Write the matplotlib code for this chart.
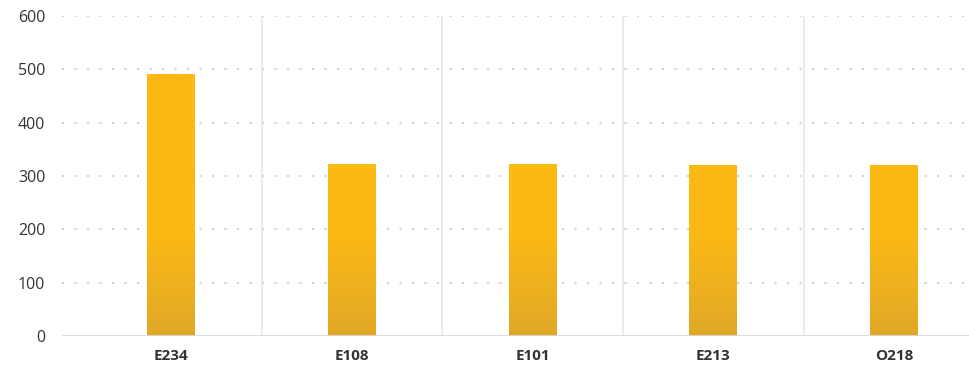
import numpy as np
import matplotlib.pyplot as plt
from matplotlib.colors import to_rgb

plt.rcParams['font.family'] = ['Open Sans', 'DejaVu Sans']

# ---------- data ----------
codes = ['E234', 'E108', 'E101', 'E213', 'O218']
values = [491, 322, 322, 320, 320]

# ---------- style ----------
top_color = np.array(to_rgb('#FCB914'))
bottom_color = np.array(to_rgb('#E0A828'))
fade_height = 190  # gradient runs from 0 up to this value
bar_width = 0.265

fig = plt.figure(figsize=(9.70, 3.73), dpi=100)
ax = fig.add_axes([0.064, 0.099, 0.936, 0.858])

x = np.arange(len(codes))
bars = ax.bar(x, values, width=bar_width, color='none', edgecolor='none', zorder=3)

# fill each bar with a vertical gradient, clipped to the bar
for b in bars:
    x0 = b.get_x()
    h = b.get_height()
    yy = np.linspace(h, 0, 256)
    t = np.clip(yy / fade_height, 0, 1)[:, None]
    rgb = bottom_color + t * (top_color - bottom_color)
    img = np.repeat(rgb[:, None, :], 2, axis=1)
    im = ax.imshow(img, extent=(x0, x0 + b.get_width(), 0, h),
                   aspect='auto', zorder=3, interpolation='bilinear')
    im.set_clip_path(b)

ax.set_xlim(-0.605, 4.42)
ax.set_ylim(0, 600)

# dotted horizontal grid
for yv in range(100, 601, 100):
    ax.axhline(yv, color='#D2D2D2', linewidth=1.5,
               linestyle=(0, (1.0, 5.0)), zorder=1)

# solid separators between categories
for xv in x[:-1] + 0.5:
    ax.axvline(xv, color='#E6E6E6', linewidth=1.2, zorder=1)

ax.axhline(0, color='#D9D9D9', linewidth=2, zorder=4)

for s in ax.spines.values():
    s.set_visible(False)

ax.set_yticks(range(0, 601, 100))
ax.set_xticks(x)
ax.set_xticklabels(codes, fontweight='bold')
ax.tick_params(axis='both', length=0, colors='#333333')
ax.tick_params(axis='y', labelsize=11.5, pad=12)
ax.tick_params(axis='x', labelsize=11, pad=9)

fig.savefig('out.png', dpi=100)
